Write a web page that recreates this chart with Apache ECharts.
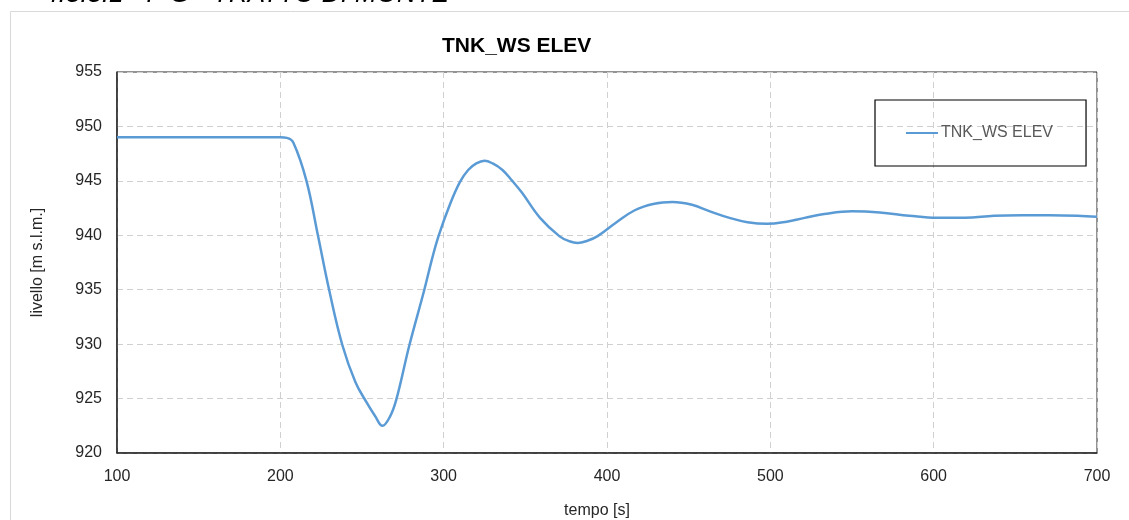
<!DOCTYPE html>
<html>
<head>
<meta charset="utf-8">
<script src="https://cdn.jsdelivr.net/npm/echarts@6/dist/echarts.min.js"></script>
<style>
  html, body { margin: 0; padding: 0; background: #fff; }
  #chart { width: 1129px; height: 520px; }
</style>
</head>
<body>
<div id="chart"></div>
<script>
// tempo [s] / livello [m s.l.m.]
const tempo = [
  100, 150, 200, 204, 208, 216, 223, 230, 238, 246, 253, 258, 262.5, 267, 271, 279, 288,
  293, 297, 304, 310, 315, 320, 325, 330, 336, 342, 348, 359, 371, 377, 382, 388, 394,
  405, 417, 429, 440, 452, 463, 475, 486, 498, 510, 521, 533, 550, 567, 585, 602,
  619, 637, 654, 671, 688, 700,
]
const livello = [
  949.0, 949.0, 949.0, 948.95, 948.5, 945.0, 940.0, 934.9, 929.9, 926.5, 924.6, 923.4, 922.5, 923.3, 924.9, 929.9, 934.9,
  937.9, 940.0, 942.9, 944.9, 946.0, 946.6, 946.85, 946.6, 946.0, 945.0, 943.9, 941.6, 939.9, 939.45, 939.3, 939.5, 939.9,
  941.1, 942.3, 942.9, 943.05, 942.8, 942.2, 941.6, 941.2, 941.05, 941.25, 941.6, 941.95, 942.2, 942.1, 941.8, 941.6,
  941.6, 941.8, 941.85, 941.85, 941.8, 941.7,
]
const seriesName = 'TNK_WS ELEV'

const chart = echarts.init(document.getElementById('chart'))

const font = 'Liberation Sans'

const option = {
  backgroundColor: '#fff',
  animation: false,
  title: {
    text: 'TNK_WS ELEV',
    left: 437,
    top: 31,
    textStyle: { color: '#000', fontSize: 21, fontWeight: 'bold', fontFamily: font },
  },
  legend: {
    data: [{ name: seriesName, icon: 'path://M0,0 H32 V2 H0 Z' }],
    left: 875,
    top: 100,
    padding: [25, 33, 25, 31],
    borderColor: '#000',
    borderWidth: 1.2,
    itemWidth: 32,
    itemHeight: 2,
    itemGap: 0,
    textStyle: { color: '#595959', fontSize: 16, fontFamily: font, padding: [0, 0, 0, -2] },
  },
  grid: {
    left: 117,
    right: 32,
    top: 72,
    bottom: 67,
    outerBoundsMode: 'none',
    show: true,
    borderColor: '#262626',
    borderWidth: 1,
  },
  xAxis: {
    type: 'value',
    min: 100,
    max: 700,
    interval: 100,
    name: 'tempo [s]',
    nameLocation: 'middle',
    nameGap: 50,
    nameTextStyle: { color: '#262626', fontSize: 16, fontFamily: font, padding: [0, 20, 0, 0] },
    axisLine: { show: true, lineStyle: { color: '#262626', width: 1.5 } },
    axisTick: { show: false },
    axisLabel: { color: '#262626', fontSize: 16, margin: 16, fontFamily: font },
    splitLine: { show: true, lineStyle: { color: '#d0d0d0', type: [6, 4], width: 1 } },
  },
  yAxis: {
    type: 'value',
    min: 920,
    max: 955,
    interval: 5,
    name: 'livello [m s.l.m.]',
    nameLocation: 'middle',
    nameGap: 71,
    nameTextStyle: { color: '#262626', fontSize: 16, fontFamily: font },
    axisLine: { show: true, lineStyle: { color: '#262626', width: 1.5 } },
    axisTick: { show: false },
    axisLabel: { color: '#262626', fontSize: 16, margin: 15, fontFamily: font },
    splitLine: { show: true, lineStyle: { color: '#d0d0d0', type: [6, 4], width: 1 } },
  },
  graphic: [
    {
      type: 'rect',
      silent: true,
      shape: { x: 10.5, y: 11.5, width: 1200, height: 600 },
      style: { fill: 'none', stroke: '#d9d9d9', lineWidth: 1 },
    },
    {
      type: 'text',
      left: 44,
      top: -18,
      silent: true,
      style: {
        text: '4.3.3.1 - F G - TRATTO DI MONTE',
        fill: '#000',
        fontSize: 26,
        fontStyle: 'italic',
        fontFamily: font,
      },
    },
  ],
  series: [
    {
      name: seriesName,
      type: 'line',
      data: tempo.map((t, i) => [t, livello[i]]),
      smooth: 0.4,
      symbol: 'none',
      lineStyle: { color: '#5b9bd5', width: 2.5 },
      itemStyle: { color: '#5b9bd5' },
    },
  ],
}

chart.setOption(option)
</script>
</body>
</html>
